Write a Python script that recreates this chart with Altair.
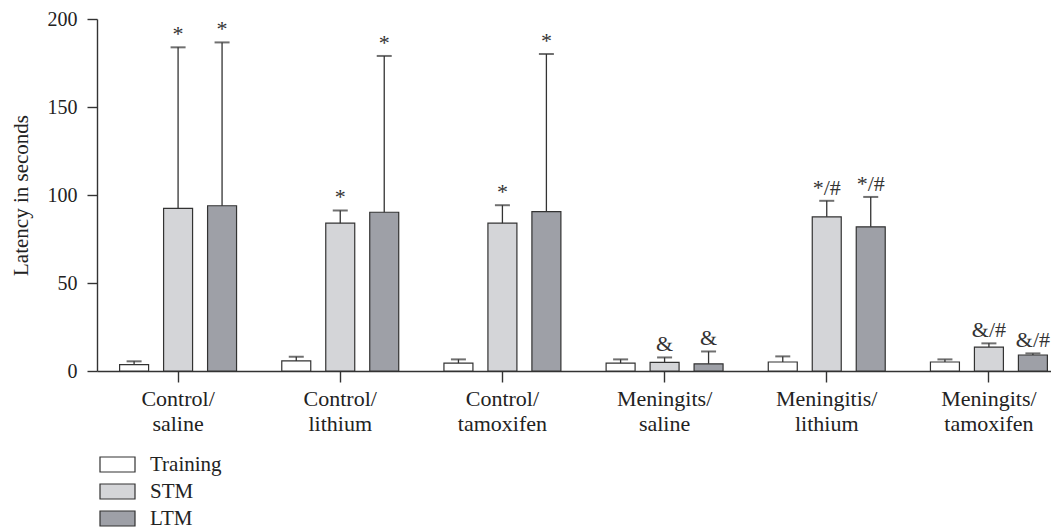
import altair as alt
import pandas as pd

groups = ["Control/ saline", "Control/ lithium", "Control/ tamoxifen",
          "Meningits/ saline", "Meningitis/ lithium", "Meningits/ tamoxifen"]
series = ["Training", "STM", "LTM"]

training = [3.6, 5.7, 4.5, 4.5, 5.1, 5.1]
training_err = [1.9, 2.4, 2.1, 2.1, 3.2, 1.5]
training_sig = ["", "", "", "", "", ""]

stm = [92.4, 84.0, 84.0, 4.9, 87.6, 13.6]
stm_err = [91.5, 7.2, 10.2, 2.8, 9.1, 2.1]
stm_sig = ["*", "*", "*", "&", "*/#", "&/#"]

ltm = [93.9, 90.2, 90.6, 4.1, 81.9, 9.1]
ltm_err = [92.8, 88.8, 89.5, 7.0, 17.0, 0.9]
ltm_sig = ["*", "*", "*", "&", "*/#", "&/#"]

colors = ["#ffffff", "#d4d5d8", "#9ea0a7"]

rows = []
for s, means, errs, sigs in zip(series, [training, stm, ltm],
                                [training_err, stm_err, ltm_err],
                                [training_sig, stm_sig, ltm_sig]):
    for g, m, e, sg in zip(groups, means, errs, sigs):
        rows.append({"group": g, "series": s, "mean": m, "upper": m + e, "sig": sg})
df = pd.DataFrame(rows)

FONT = "Liberation Serif"
INK = "#333333"
TXT = "#222222"

x = alt.X("group:N", sort=groups,
          scale=alt.Scale(range=[0, 973], paddingInner=0, paddingOuter=0),
          axis=alt.Axis(title=None, labelExpr="split(datum.label, ' ')",
                        labelAngle=0, tickSize=11, labelPadding=6,
                        labelFontSize=22, labelLineHeight=25,
                        labelBaseline="top"))
xo = alt.XOffset("series:N", sort=series,
                 scale=alt.Scale(domain=series, paddingInner=0.341, paddingOuter=0.514))

base = alt.Chart(df).encode(x=x, xOffset=xo)

yax = alt.Axis(values=[0, 50, 100, 150, 200], title="Latency in seconds",
               grid=False, tickSize=10, labelPadding=10, titlePadding=16,
               labelFontSize=20, titleFontSize=21, titleFontWeight="normal")

bars = base.mark_bar(stroke=INK, strokeWidth=1.2).encode(
    y=alt.Y("mean:Q", scale=alt.Scale(domain=[0, 200], nice=False), axis=yax),
    fill=alt.Fill("series:N", sort=series,
                  scale=alt.Scale(domain=series, range=colors),
                  legend=alt.Legend(orient="none", legendX=0, legendY=435,
                                    title=None, direction="vertical",
                                    symbolType="M-1,-1H3.667V1H-1Z",
                                    symbolSize=225, symbolStrokeColor=INK,
                                    symbolStrokeWidth=1.2, symbolOpacity=1,
                                    labelFontSize=21, labelOffset=32,
                                    rowPadding=5, padding=0)),
)

rules = base.mark_rule(color=INK, strokeWidth=1.3).encode(
    y="mean:Q", y2="upper:Q")

caps = base.mark_tick(color=INK, size=15, thickness=2, orient="horizontal").encode(
    y="upper:Q")

labels = base.mark_text(font=FONT, fontSize=22, color=INK, dy=-6,
                        baseline="alphabetic").encode(
    y="upper:Q", text="sig:N")

chart = alt.layer(bars, rules, caps, labels).properties(
    width=954, height=352,
    autosize=alt.AutoSizeParams(type="none"),
    padding={"left": 89, "top": 11, "right": 0, "bottom": 157},
).configure_view(stroke=None).configure_axis(
    labelFont=FONT, titleFont=FONT, labelColor=TXT, titleColor=TXT,
    domainColor=INK, tickColor=INK, domainWidth=1.4, tickWidth=1.4
).configure_legend(labelFont=FONT, labelColor=TXT)

chart.save("out.html", embed_options={"renderer": "svg", "actions": False})
